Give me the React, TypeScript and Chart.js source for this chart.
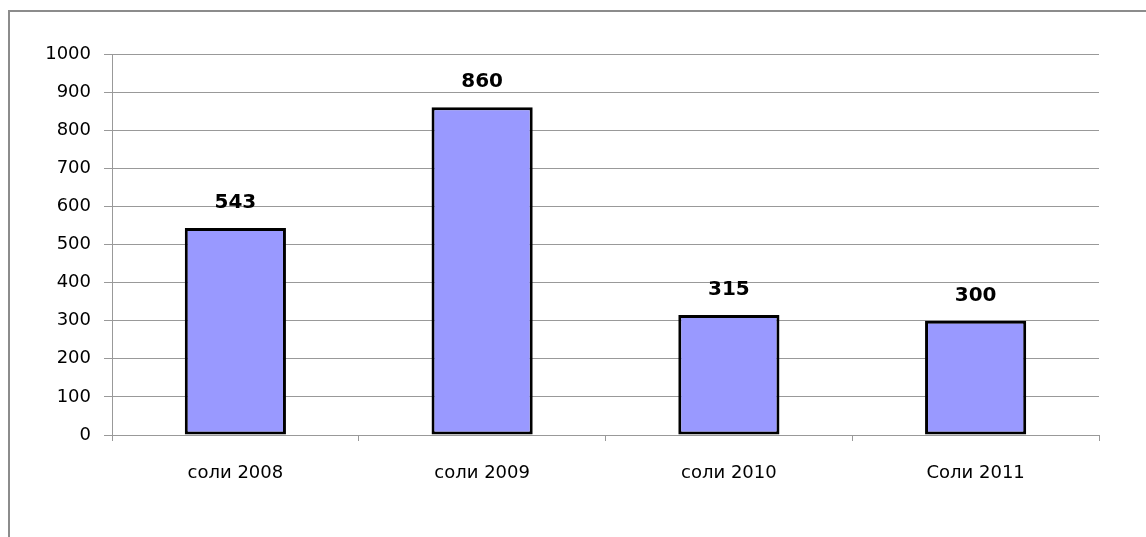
import React, { useEffect, useRef } from "react";
import { Chart, registerables } from "chart.js";

Chart.register(...registerables);

const categories = ["соли 2008", "соли 2009", "соли 2010", "Соли 2011"];
const values = [543, 860, 315, 300];

const FONT = "'DejaVu Sans', Verdana, sans-serif";

const valueLabels = {
  id: "valueLabels",
  afterDatasetsDraw(chart: any) {
    const { ctx } = chart;
    const meta = chart.getDatasetMeta(0);
    ctx.save();
    ctx.font = `bold 20px ${FONT}`;
    ctx.fillStyle = "#000";
    ctx.textAlign = "center";
    ctx.textBaseline = "alphabetic";
    meta.data.forEach((bar: any, i: number) => {
      ctx.fillText(String(values[i]), bar.x, bar.y - 20);
    });
    ctx.restore();
  },
};

export default function App() {
  const ref = useRef<HTMLCanvasElement>(null);
  useEffect(() => {
    if (!ref.current) return;
    const chart = new Chart(ref.current, {
      type: "bar",
      data: {
        labels: categories,
        datasets: [
          {
            data: values,
            backgroundColor: "#9999FF",
            borderColor: "#000000",
            borderWidth: 3,
            borderSkipped: false,
            categoryPercentage: 1,
            barPercentage: 0.41,
          },
        ],
      },
      options: {
        animation: false,
        responsive: false,
        maintainAspectRatio: false,
        layout: { padding: { top: 54, right: 47, left: 0, bottom: 0 } },
        plugins: { legend: { display: false }, tooltip: { enabled: false } },
        scales: {
          x: {
            offset: true,
            grid: {
              offset: true,
              drawOnChartArea: false,
              drawTicks: true,
              tickLength: 6,
              color: "#999999",
            },
            border: { display: true, color: "#999999", width: 1 },
            ticks: {
              color: "#000",
              font: { family: FONT, size: 18 },
              padding: 22,
            },
            afterFit(scale: any) {
              scale.height = 102;
            },
          },
          y: {
            min: 0,
            max: 1000,
            grid: { color: "#999999", tickLength: 8, drawTicks: true },
            border: { display: true, color: "#999999", width: 1 },
            ticks: {
              stepSize: 100,
              color: "#000",
              font: { family: FONT, size: 18 },
              padding: 13,
              callback: (v: any) => String(v),
            },
            afterFit(scale: any) {
              scale.width = 112;
            },
          },
        },
      },
      plugins: [valueLabels],
    });
    return () => chart.destroy();
  }, []);

  return (
    <div
      style={{
        position: "fixed",
        left: 0,
        top: 0,
        width: 1146,
        height: 537,
        overflow: "hidden",
        background: "#fff",
      }}
    >
      <div
        style={{
          position: "absolute",
          left: 8,
          top: 10,
          width: 1200,
          height: 600,
          border: "2px solid #8c8c8c",
          boxSizing: "border-box",
        }}
      />
      <canvas
        ref={ref}
        width={1146}
        height={537}
        style={{ position: "absolute", left: 0, top: 0, width: 1146, height: 537 }}
      />
    </div>
  );
}
